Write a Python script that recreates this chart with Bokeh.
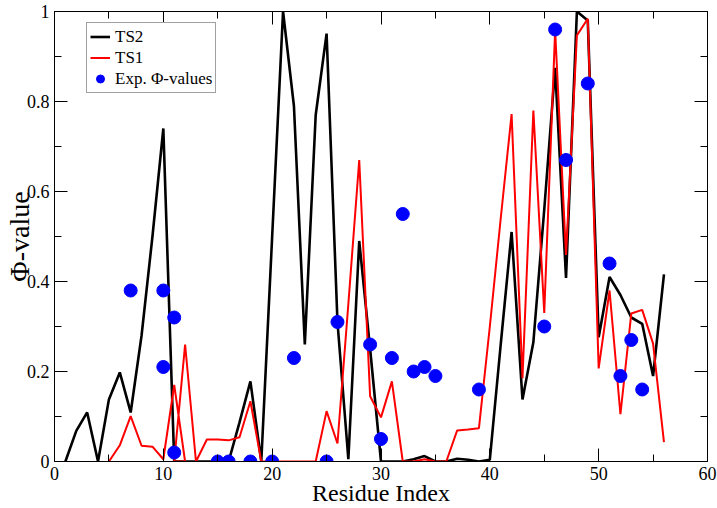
from bokeh.plotting import figure
from bokeh.models import (Range1d, LinearAxis, FixedTicker, Legend, LegendItem,
                          CustomLabelingPolicy)
from bokeh.embed import file_html
from bokeh.resources import INLINE

# TS2 (black) computed phi-values
ts2_x = list(range(1, 57))
ts2_y = [0.0, 0.068, 0.109, 0.0, 0.138, 0.198, 0.109, 0.28, 0.50, 0.74,
         0.0, 0.0, 0.0, 0.0, 0.0, 0.0, 0.087, 0.178, 0.0, 0.50,
         1.0, 0.79, 0.26, 0.77, 0.951, 0.31, 0.005, 0.49, 0.25, 0.0,
         0.0, 0.0, 0.005, 0.012, 0.0, 0.0, 0.006, 0.004, 0.0, 0.004,
         0.26, 0.51, 0.138, 0.265, 0.56, 0.875, 0.408, 1.0, 0.98, 0.276,
         0.41, 0.37, 0.32, 0.306, 0.19, 0.416]

# TS1 (red) computed phi-values
ts1_x = [5, 6, 7, 8, 9, 10, 11, 12, 11, 12, 13, 14, 15, 16, 17, 18, 19, 20,
         21, 22, 23, 24, 25, 26, 27, 28, 29, 30, 31, 32, 33, 34, 35, 36, 37,
         38, 39, 40, 41, 42, 43, 44, 45, 46, 47, 48, 49, 50, 51, 52, 53, 54,
         55, 56]
ts1_y = [0.0, 0.036, 0.101, 0.035, 0.033, 0.005, 0.17, 0.0, 0.0, 0.26, 0.0,
         0.049, 0.049, 0.047, 0.054, 0.134, 0.0, 0.0,
         0.0, 0.0, 0.0, 0.0, 0.112, 0.04, 0.35, 0.67, 0.145, 0.098, 0.178,
         0.0, 0.0, 0.005, 0.0, 0.0, 0.069,
         0.071, 0.074, 0.30, 0.54, 0.772, 0.185, 0.78, 0.33, 0.958, 0.459,
         0.947, 0.984, 0.207, 0.38, 0.105, 0.329, 0.337,
         0.262, 0.043]

# Experimental phi-values
exp_x = [7, 10, 10, 11, 11, 15, 16, 18, 20, 22, 25, 26, 29, 30, 31, 32, 33,
         34, 35, 39, 45, 46, 47, 49, 51, 52, 53, 54]
exp_y = [0.38, 0.38, 0.21, 0.32, 0.02, 0.0, 0.0, 0.0, 0.0, 0.23, 0.0, 0.31,
         0.26, 0.05, 0.23, 0.55, 0.20, 0.21, 0.19, 0.16, 0.30, 0.96, 0.67,
         0.84, 0.44, 0.19, 0.27, 0.16]

x_major = [0, 10, 20, 30, 40, 50, 60]
x_minor = [5, 15, 25, 35, 45, 55]
y_major = [0, 0.2, 0.4, 0.6, 0.8, 1.0]
y_minor = [0.1, 0.3, 0.5, 0.7, 0.9]
y_labels = {0: "0", 0.2: "0.2", 0.4: "0.4", 0.6: "0.6", 0.8: "0.8", 1: "1"}

FONT = "Liberation Serif"

p = figure(width=717, height=508, x_range=Range1d(0, 60), y_range=Range1d(0, 1),
           output_backend="svg", toolbar_location=None,
           min_border_left=40, min_border_right=10, min_border_top=11,
           min_border_bottom=30, background_fill_color="white")
p.grid.visible = False
p.outline_line_color = "black"
p.outline_line_width = 1

xb = p.below[0]
yl = p.left[0]

r2 = p.line(ts2_x, ts2_y, line_color="black", line_width=2.6)
r1 = p.line(ts1_x, ts1_y, line_color="#ff0000", line_width=2.0)
re = p.scatter(exp_x, exp_y, size=13, fill_color="#0000ff", line_color="#0000ff")

hide_all = CustomLabelingPolicy(code="""
for (const i of Array.from(indices)) { indices.unset(i) }
return indices
""")
top = LinearAxis(major_label_policy=hide_all, major_label_standoff=0,
                 axis_label=None, axis_label_standoff=0)
right = LinearAxis(major_label_policy=hide_all, major_label_standoff=0,
                   axis_label=None, axis_label_standoff=0)
p.add_layout(top, "above")
p.add_layout(right, "right")

for ax in [xb, top]:
    ax.ticker = FixedTicker(ticks=x_major, minor_ticks=x_minor)
for ax in [yl, right]:
    ax.ticker = FixedTicker(ticks=y_major, minor_ticks=y_minor)

for ax in [xb, yl, top, right]:
    ax.axis_line_color = "black"
    ax.major_tick_line_color = "black"
    ax.minor_tick_line_color = "black"
    ax.major_tick_in = 13
    ax.major_tick_out = 0
    ax.minor_tick_in = 7
    ax.minor_tick_out = 0
    ax.major_label_text_font = FONT
    ax.major_label_text_font_size = "18px"
    ax.major_label_text_color = "black"
    ax.axis_label_text_font = FONT
    ax.axis_label_text_font_style = "normal"
    ax.axis_label_text_color = "black"

for ax in [top, right]:
    ax.major_label_text_font_size = "0px"

yl.major_label_overrides = y_labels
xb.axis_label = "Residue Index"
xb.axis_label_text_font_size = "24px"
xb.axis_label_standoff = -3
xb.major_label_standoff = 5
yl.axis_label = "Φ-value"
yl.axis_label_text_font_size = "28px"
yl.axis_label_standoff = -11
yl.major_label_standoff = 5

legend = Legend(items=[LegendItem(label="TS2", renderers=[r2]),
                       LegendItem(label="TS1", renderers=[r1]),
                       LegendItem(label="Exp. Φ-values", renderers=[re])],
                location=(32, 368))
legend.label_text_font = FONT
legend.label_text_font_size = "17px"
legend.label_text_color = "black"
legend.glyph_width = 20
legend.glyph_height = 21
legend.label_height = 21
legend.label_standoff = 5
legend.spacing = 0
legend.padding = 3
legend.margin = 0
legend.border_line_color = "#444444"
legend.border_line_width = 1
legend.background_fill_alpha = 1
p.add_layout(legend, "center")

open("out.html", "w").write(file_html(p, INLINE))
